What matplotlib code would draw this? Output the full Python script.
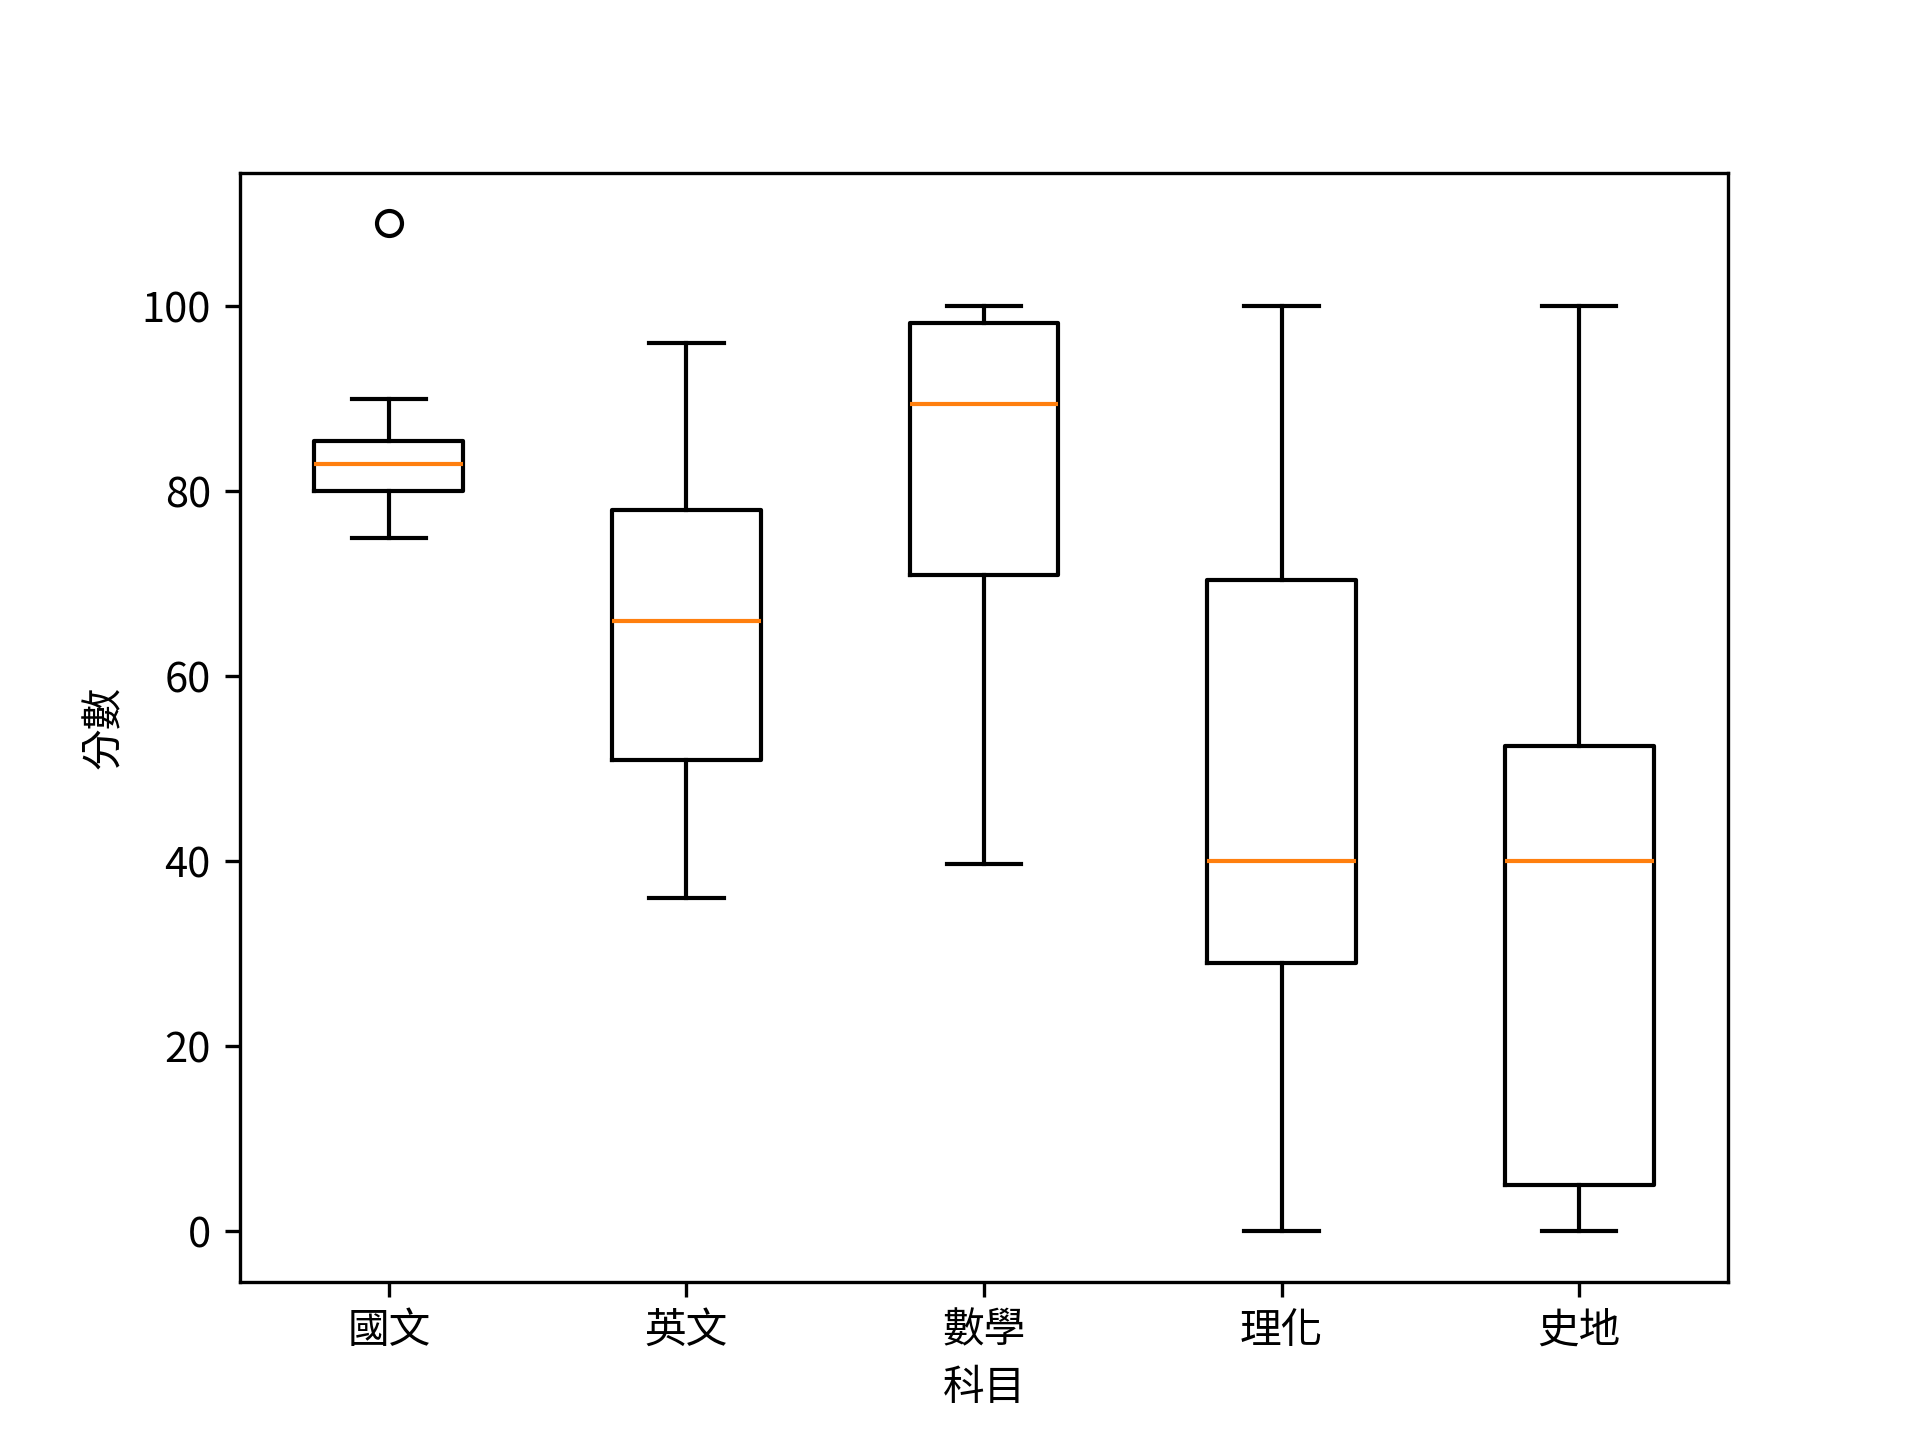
import matplotlib
matplotlib.use('Agg')
import matplotlib.pyplot as plt

plt.rcParams['font.family'] = ['Noto Sans CJK TC', 'DejaVu Sans']

subjects = ['國文', '英文', '數學', '理化', '史地']
med = [83, 66, 89.5, 40, 40]
q1 = [80, 51, 71, 29, 5]
q3 = [85.5, 78, 98.25, 70.4, 52.5]
whislo = [75, 36, 39.7, 0, 0]
whishi = [90, 96, 100, 100, 100]
fliers = [[109], [], [], [], []]

stats = []
for i in range(len(subjects)):
    stats.append({'label': subjects[i], 'med': med[i], 'q1': q1[i], 'q3': q3[i],
                  'whislo': whislo[i], 'whishi': whishi[i], 'fliers': fliers[i]})

fig, ax = plt.subplots(figsize=(6.4, 4.8), dpi=300)
ax.bxp(stats)
ax.set_xlabel('科目')
ax.set_ylabel('分數')
plt.savefig('out.png')
